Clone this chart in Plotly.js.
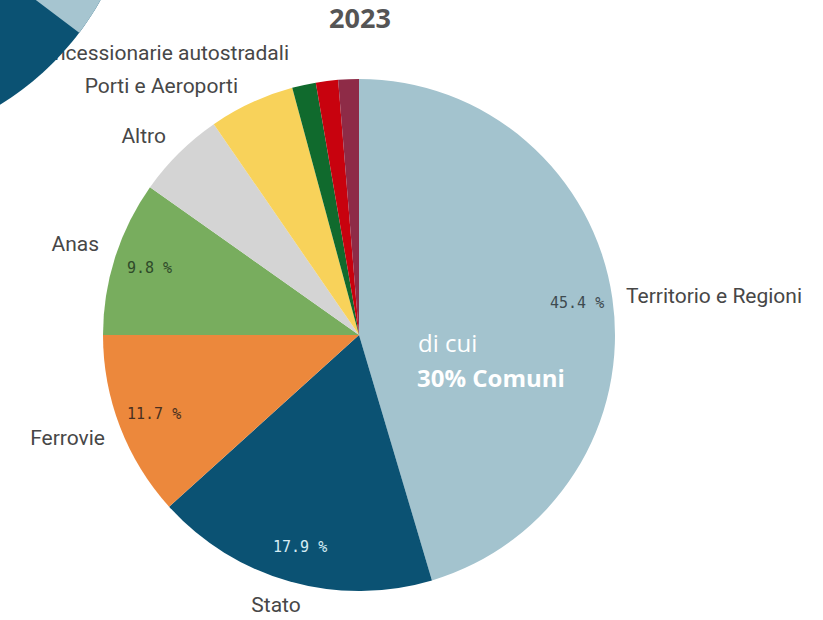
<!DOCTYPE html>
<html>
<head>
<meta charset="utf-8">
<script src="https://cdn.plot.ly/plotly-3.0.1.min.js"></script>
<style>html,body{margin:0;padding:0;background:#fff;}#chart{width:823px;height:620px;}</style>
</head>
<body>
<div id="chart"></div>
<script>
// ---- data ----
const categories = ["Territorio e Regioni", "Stato", "Ferrovie", "Anas", "Altro",
  "Porti e Aeroporti", "Concessionarie autostradali", "Altri (1)", "Altri (2)"];
const values = [45.4, 17.9, 11.7, 9.8, 5.6, 5.4, 1.5, 1.4, 1.3];
const shownLabels = ["Territorio e Regioni", "Stato", "Ferrovie", "Anas", "Altro",
  "Porti e Aeroporti", "Concessionarie autostradali"];
const title = "2023";
const noteLines = ["di cui", "30% Comuni"];

// ---- styles / layout ----
const colors = ["#a3c3ce", "#0b5273", "#ec883c", "#78ad5e", "#d4d4d4",
  "#f8d25a", "#106a2d", "#c8020e", "#8e2b47"];
const W = 823, H = 620;
const cx = 359, cy = 335, R = 256;
// label anchor positions (pixels) & alignment
const labelPos = [
  {x: 626, y: 298, a: "left"},
  {x: 276, y: 607, a: "center"},
  {x: 105, y: 440, a: "right"},
  {x: 99, y: 246, a: "right"},
  {x: 166, y: 138, a: "right"},
  {x: 238, y: 88, a: "right"},
  {x: 289, y: 55, a: "right"}
];
const pctColors = ["#3e4a50", "#d5ecf3", "#4a3020", "#2f4a2a"];

const data = [];
// hidden cartesian layer for category names (so decoration shape can overlap)
data.push({
  type: "scatter", mode: "text", x: labelPos.map(p => p.x), y: labelPos.map(p => p.y),
  text: shownLabels,
  textposition: labelPos.map(p => p.a === "left" ? "middle right" : (p.a === "right" ? "middle left" : "middle center")),
  textfont: {family: "Roboto, 'Noto Sans', sans-serif", size: 21, color: "#474747"},
  hoverinfo: "skip", showlegend: false, cliponaxis: false
});
data.push({
  type: "pie", labels: categories, values: values, sort: false, direction: "clockwise",
  rotation: 0, marker: {colors: colors, line: {width: 0}}, textinfo: "none",
  hoverinfo: "label+percent", showlegend: false,
  domain: {x: [(cx - R) / W, (cx + R) / W], y: [1 - (cy + R) / H, 1 - (cy - R) / H]}
});

// percentage annotations at mid-angle of each large slice
const total = values.reduce((a, b) => a + b, 0);
const annotations = [];
let cum = 0;
values.forEach((v, i) => {
  const mid = (cum + v / 2) / total * 2 * Math.PI;
  cum += v;
  if (v < 9) return;
  const r = 0.86 * R;
  const px = cx + r * Math.sin(mid), py = cy - r * Math.cos(mid);
  annotations.push({
    xref: "paper", yref: "paper", x: px / W, y: 1 - py / H, showarrow: false,
    text: v.toFixed(1) + " %",
    font: {family: "'DejaVu Sans Mono', monospace", size: 15, color: pctColors[i]},
    xanchor: "center", yanchor: "middle"
  });
});
annotations.push({
  xref: "paper", yref: "paper", x: 416 / W, y: 1 - 342 / H, showarrow: false,
  text: noteLines[0], xanchor: "left", yanchor: "middle",
  font: {family: "'Open Sans', sans-serif", size: 24, color: "#ffffff"}
});
annotations.push({
  xref: "paper", yref: "paper", x: 415 / W, y: 1 - 378 / H, showarrow: false,
  text: "<b>" + noteLines[1] + "</b>", xanchor: "left", yanchor: "middle",
  font: {family: "'Open Sans', sans-serif", size: 24, color: "#ffffff"}
});

// decorative partial pie in the top-left corner (pixel coords on hidden axes)
const dcx = -150, dcy = -140, dR = 287;
function arcPts(a0, a1, n) {
  const pts = [];
  for (let k = 0; k <= n; k++) {
    const a = a0 + (a1 - a0) * k / n;
    pts.push([dcx + dR * Math.cos(a), dcy + dR * Math.sin(a)]);
  }
  return pts;
}
const toPath = pts => "M " + dcx + "," + dcy + " " + pts.map(p => "L " + p[0].toFixed(1) + "," + p[1].toFixed(1)).join(" ") + " Z";
const deg = Math.PI / 180;
const shapes = [
  {type: "path", xref: "x", yref: "y", layer: "above", line: {width: 0},
   fillcolor: "#0b5273", path: toPath(arcPts(-10 * deg, 100 * deg, 80))},
  {type: "path", xref: "x", yref: "y", layer: "above", line: {width: 0},
   fillcolor: "#a6c5d0", path: toPath(arcPts(-10 * deg, 37 * deg, 40))}
];

const layout = {
  width: W, height: H, margin: {l: 0, r: 0, t: 0, b: 0},
  paper_bgcolor: "#ffffff", plot_bgcolor: "rgba(0,0,0,0)",
  title: {text: "<b>" + title + "</b>", x: 360 / W, xanchor: "center", y: 1 - 19 / H, yanchor: "middle",
          font: {family: "'Open Sans', sans-serif", size: 27, color: "#555555"}},
  xaxis: {range: [0, W], visible: false, fixedrange: true},
  yaxis: {range: [H, 0], visible: false, fixedrange: true},
  annotations: annotations, shapes: shapes, showlegend: false
};
Plotly.newPlot("chart", data, layout, {displayModeBar: false, staticPlot: true});
</script>
</body>
</html>
